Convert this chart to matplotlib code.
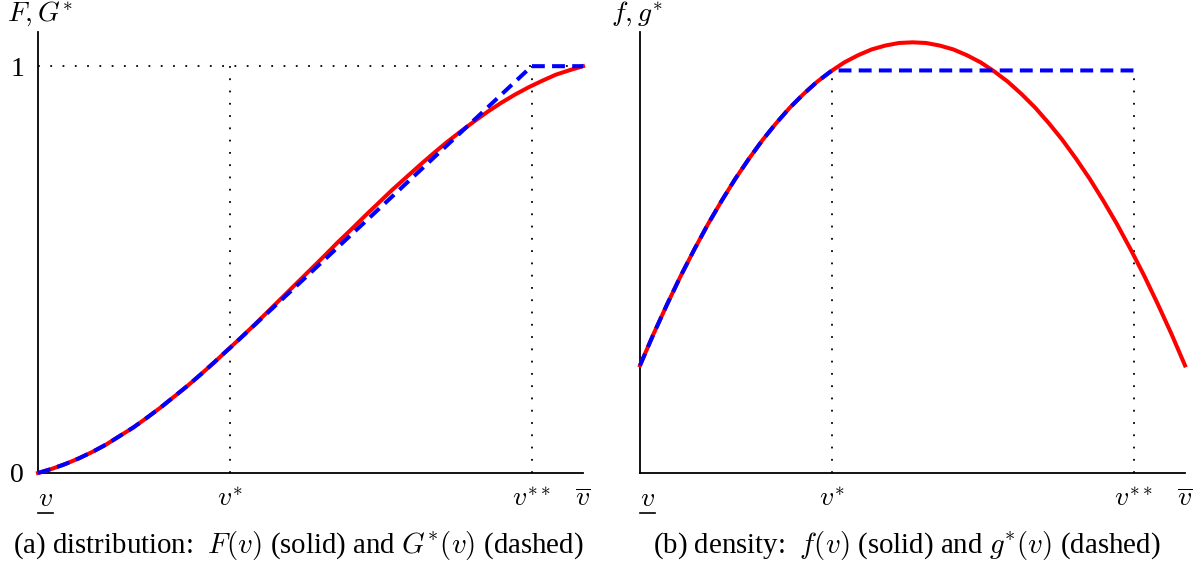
import matplotlib
matplotlib.use("Agg")
import matplotlib.pyplot as plt
from matplotlib.lines import Line2D

plt.rcParams['font.family'] = ['Liberation Serif', 'DejaVu Serif']
plt.rcParams['mathtext.fontset'] = 'cm'

# ---- data (v normalised to [0, 1]) ----
v_grid = [0.000, 0.025, 0.050, 0.075, 0.100, 0.125, 0.150, 0.175, 0.200, 0.225,
          0.250, 0.275, 0.300, 0.325, 0.350, 0.375, 0.400, 0.425, 0.450, 0.475,
          0.500, 0.525, 0.550, 0.575, 0.600, 0.625, 0.650, 0.675, 0.700, 0.725,
          0.750, 0.775, 0.800, 0.825, 0.850, 0.875, 0.900, 0.925, 0.950, 0.975, 1.000]
F_vals = [0.000, 0.010, 0.022, 0.036, 0.052, 0.070, 0.091, 0.112, 0.136, 0.161,
          0.188, 0.215, 0.244, 0.274, 0.305, 0.336, 0.368, 0.401, 0.434, 0.467,
          0.500, 0.533, 0.567, 0.599, 0.632, 0.664, 0.696, 0.726, 0.756, 0.785,
          0.813, 0.839, 0.864, 0.888, 0.910, 0.930, 0.948, 0.964, 0.979, 0.990, 1.000]
f_vals = [0.333, 0.431, 0.523, 0.611, 0.693, 0.771, 0.843, 0.911, 0.973, 1.031,
          1.083, 1.131, 1.173, 1.211, 1.243, 1.271, 1.293, 1.311, 1.323, 1.331,
          1.333, 1.331, 1.323, 1.311, 1.293, 1.271, 1.243, 1.211, 1.173, 1.131,
          1.083, 1.031, 0.973, 0.911, 0.843, 0.771, 0.693, 0.611, 0.523, 0.431, 0.333]

v_star = 0.352
v_2star = 0.906
F_at_vstar = 0.307
g_level = 1.246

# G*: equals F up to v*, then linear to 1 at v**, then flat
G_v = [v for v in v_grid if v < v_star] + [v_star, v_2star, 1.0]
G_vals = [F for v, F in zip(v_grid, F_vals) if v < v_star] + [F_at_vstar, 1.0, 1.0]
# g*: equals f up to v*, then flat until v**
g_v = [v for v in v_grid if v < v_star] + [v_star, v_2star]
g_vals = [f for v, f in zip(v_grid, f_vals) if v < v_star] + [g_level, g_level]

x_ticks = [0.0, v_star, v_2star, 1.0]
x_labels = [r'$v$', r'$v^{*}$', r'$v^{**}$', r'$\overline{v}$']

W, H = 1201, 569
fig = plt.figure(figsize=(W / 100, H / 100), dpi=100)

def ax_rect(x0, x1, ytop, ybot):
    return [x0 / W, 1 - ybot / H, (x1 - x0) / W, (ybot - ytop) / H]

axL = fig.add_axes(ax_rect(38, 583, 32, 473))
axR = fig.add_axes(ax_rect(640, 1185, 32, 473))

red = '#ff0000'
blue = '#0000ff'
lw = 2.9
dash = (3.2, 1.8)
dotted = (0, (1.0, 5.8))
fs = 20

for ax in (axL, axR):
    for s in ('top', 'right'):
        ax.spines[s].set_visible(False)
    for s in ('left', 'bottom'):
        ax.spines[s].set_linewidth(1.3)
        ax.spines[s].set_color('black')
    ax.set_xlim(0, 1)
    ax.set_xticks(x_ticks, x_labels, fontsize=fs)
    ax.tick_params(axis='x', length=0, pad=10)
    ax.get_xticklabels()[0].set_ha('left')

# ---- left panel ----
axL.set_ylim(0, 1.084)
axL.plot([0, 1], [1, 1], color='black', lw=1.3, ls=dotted, clip_on=False)
axL.plot([v_star, v_star], [0, 1], color='black', lw=1.3, ls=dotted)
axL.plot([v_2star, v_2star], [0, 1], color='black', lw=1.3, ls=dotted)
axL.plot(v_grid, F_vals, color=red, lw=lw, clip_on=False, zorder=3)
axL.plot(G_v, G_vals, color=blue, lw=lw, dashes=dash, clip_on=False, zorder=4)
axL.set_yticks([0, 1], ['0', '1'], fontsize=fs)
axL.tick_params(axis='y', length=0, pad=10)
axL.text(-0.057, 1.042, r'$F, G^{*}$', transform=axL.transAxes, fontsize=fs,
         ha='left', va='center')

# ---- right panel ----
axR.set_ylim(0, 1.365)
axR.plot([v_star, v_star], [0, g_level], color='black', lw=1.3, ls=dotted)
axR.plot([v_2star, v_2star], [0, g_level], color='black', lw=1.3, ls=dotted)
axR.plot(v_grid, f_vals, color=red, lw=lw, clip_on=False, zorder=3)
axR.plot(g_v, g_vals, color=blue, lw=lw, dashes=dash, clip_on=False, zorder=4)
axR.set_yticks([])
axR.text(-0.053, 1.042, r'$f, g^{*}$', transform=axR.transAxes, fontsize=fs,
         ha='left', va='center')

fig.text(298 / W, 1 - 546 / H, r'(a) distribution:  $F(v)$ (solid) and $G^{*}(v)$ (dashed)',
         ha='center', va='center', fontsize=20.8)
fig.text(907 / W, 1 - 546 / H, r'(b) density:  $f(v)$ (solid) and $g^{*}(v)$ (dashed)',
         ha='center', va='center', fontsize=20.8)

# underline under the lower-bound label (mathtext has no \underline)
fig.canvas.draw()
renderer = fig.canvas.get_renderer()
for ax in (axL, axR):
    bb = ax.get_xticklabels()[0].get_window_extent(renderer)
    y_line = bb.y0 - 1
    fig.add_artist(Line2D([bb.x0 / W, bb.x1 / W], [y_line / H, y_line / H],
                          color='black', lw=1.2, transform=fig.transFigure))

fig.savefig('out.png', dpi=100)
